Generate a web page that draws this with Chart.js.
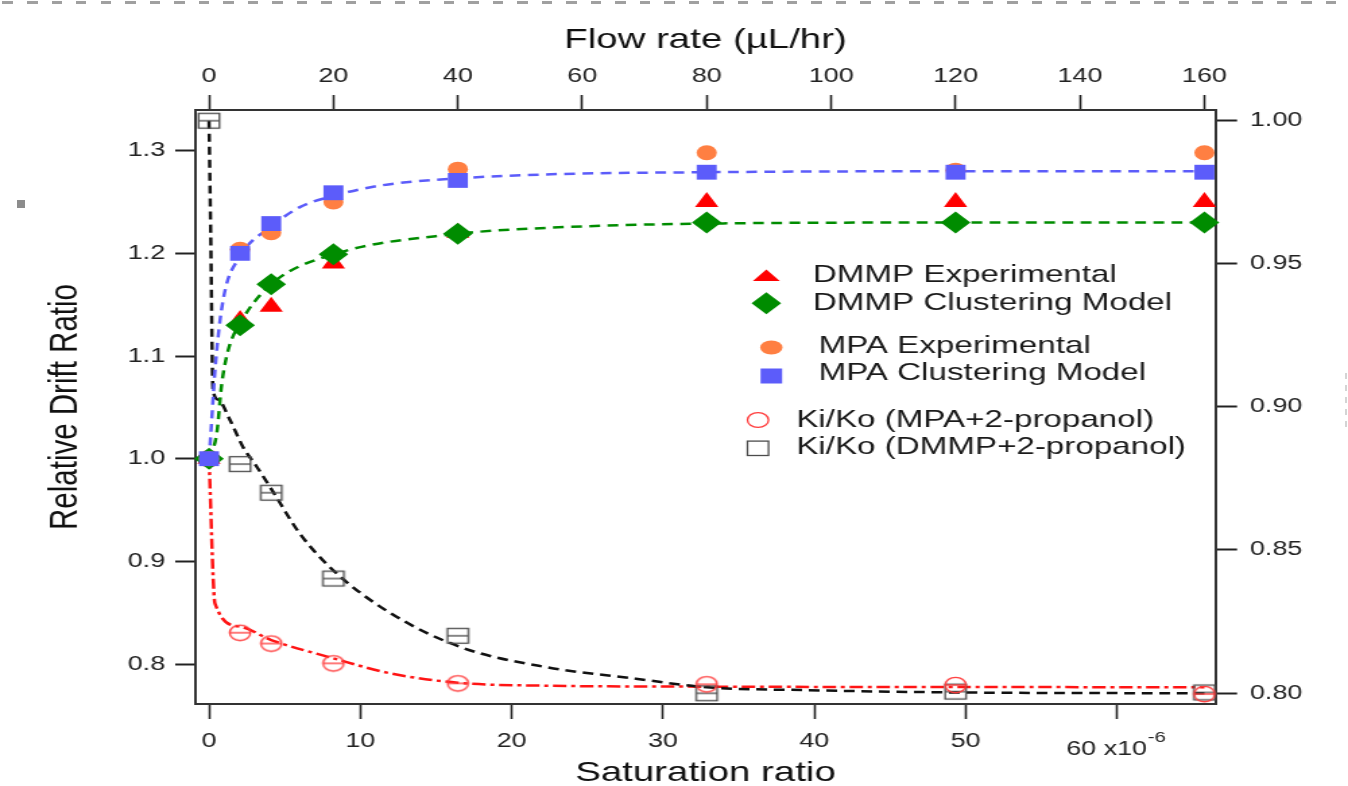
<!DOCTYPE html>
<html>
<head>
<meta charset="utf-8">
<script src="https://cdn.jsdelivr.net/npm/chart.js@4.4.1/dist/chart.umd.min.js"></script>
<style>
html,body{margin:0;padding:0;background:#fff;width:1348px;height:786px;overflow:hidden;}
#wrap{position:absolute;left:0;top:0;width:1000px;height:786px;transform:scaleX(1.348);transform-origin:0 0;}
#c{display:block;width:1000px;height:786px;}
#topdash{position:absolute;left:0;top:1px;width:1348px;height:3px;background:repeating-linear-gradient(90deg,#a0a0a0 0 10px,transparent 10px 24.5px);background-position:3px 0;}
#dot{position:absolute;left:17px;top:200px;width:8px;height:8px;background:#8c8c8c;}
#rdash{position:absolute;left:1345px;top:373px;width:2px;height:60px;background:repeating-linear-gradient(180deg,#d4d4d4 0 6px,transparent 6px 12px);}
</style>
</head>
<body>
<div id="topdash"></div><div id="dot"></div><div id="rdash"></div>
<div id="wrap"><canvas id="c" width="1000" height="786"></canvas></div>
<script>
// ---------------- DATA ----------------
const flowRates = [0, 5, 10, 20, 40, 80, 120, 160];               // µL/hr
const dmmpExperimental = [1.0, 1.135, 1.148, 1.190, 1.220, 1.250, 1.250, 1.250];
const dmmpModel        = [1.0, 1.130, 1.170, 1.199, 1.219, 1.230, 1.230, 1.230];
const mpaExperimental  = [1.0, 1.204, 1.220, 1.250, 1.282, 1.298, 1.281, 1.298];
const mpaModel         = [1.0, 1.200, 1.229, 1.259, 1.271, 1.279, 1.279, 1.279];
const kiKoMpa          = [1.0, 0.8305, 0.820, 0.8007, 0.7812, 0.7803, 0.7796, 0.7708]; // left axis
const kiKoDmmp         = [1.000, 0.880, 0.870, 0.840, 0.820, 0.7999, 0.8005, 0.8002];  // right axis

// fitted curves
const mpaFitFlow  = [0, 0.3, 1, 2.25, 5, 10, 14.6, 20, 27.5, 40, 55, 80, 120, 160];
const mpaFitVal   = [1.0, 1.025, 1.089, 1.154, 1.197, 1.226, 1.245, 1.256, 1.266, 1.273, 1.277, 1.279, 1.280, 1.280];
const dmmpFitFlow = [0, 1.25, 2.05, 3.1, 5, 10, 20, 40, 55, 80, 120, 160];
const dmmpFitVal  = [1.0, 1.025, 1.073, 1.106, 1.132, 1.170, 1.199, 1.219, 1.225, 1.229, 1.230, 1.230];
const kiDmmpFitFlow = [0, 0.27, 0.64, 1.5, 3.37, 5.46, 7.7, 10.1, 14.5, 19.9, 29.1, 40.5, 54.3, 68.6, 80, 96.2, 120, 160];
const kiDmmpFitVal  = [1.0, 0.961, 0.906, 0.9025, 0.8954, 0.886, 0.879, 0.871, 0.856, 0.843, 0.828, 0.816, 0.809, 0.805, 0.802, 0.801, 0.8002, 0.7999];
const kiMpaFitFlow  = [0, 0.96, 5, 10, 20, 29.1, 40, 54.3, 80, 120, 160];
const kiMpaFitVal   = [1.0, 0.859, 0.8364, 0.8234, 0.8056, 0.791, 0.7818, 0.7789, 0.778, 0.7776, 0.7775];

// ticks
const flowTicks = [0, 20, 40, 60, 80, 100, 120, 140, 160];
const saturationTicks = [0, 10, 20, 30, 40, 50, 60];
const driftTicks = [0.8, 0.9, 1.0, 1.1, 1.2, 1.3];
const kiKoTicks = [0.80, 0.85, 0.90, 0.95, 1.00];

const legendLabels = ['DMMP Experimental', 'DMMP Clustering Model', 'MPA Experimental',
  'MPA Clustering Model', 'Ki/Ko (MPA+2-propanol)', 'Ki/Ko (DMMP+2-propanol)'];
const titleTop = 'Flow rate (\u00B5L/hr)';
const titleBottom = 'Saturation ratio';
const titleLeft = 'Relative Drift Ratio';

// ---------------- STYLE ----------------
const FONT = "'Liberation Sans', Arial, Helvetica, sans-serif";
Chart.defaults.font.family = FONT;
Chart.defaults.color = '#222';
const C = {
  orange: '#ff7f42', blue: '#5c5cfa', red: '#ff0000', green: '#008c00',
  openRed: '#ff3a3a', openGray: '#4c4c4c', black: '#111111', redLine: '#ff1414'
};

function mkImg(kind) {
  const c = document.createElement('canvas');
  c.width = 20; c.height = 20;
  const g = c.getContext('2d');
  g.lineWidth = 1.35;
  if (kind === 'circle') {
    g.strokeStyle = C.openRed;
    g.beginPath(); g.arc(10, 10, 7.7, 0, Math.PI * 2); g.stroke();
    g.beginPath(); g.moveTo(2.3, 10); g.lineTo(17.7, 10); g.stroke();
  } else {
    g.strokeStyle = C.openGray;
    g.strokeRect(2.25, 2.6, 15.5, 14.8);
    g.beginPath(); g.moveTo(2.2, 10); g.lineTo(17.8, 10); g.stroke();
  }
  return c;
}
const imgCircle = mkImg('circle');
const imgSquare = mkImg('square');

const pts = (xs, ys) => xs.map((x, i) => ({ x: x, y: ys[i] }));

function markerSet(label, ys, axis, style, radius, color, order, img) {
  return {
    label, data: pts(flowRates, ys), xAxisID: 'xTop', yAxisID: axis,
    showLine: false, pointStyle: img || style, pointRadius: radius,
    backgroundColor: color, borderColor: color, pointBorderWidth: 0,
    order, clip: false
  };
}
function curveSet(label, xs, ys, axis, color, dash, order) {
  return {
    label, data: pts(xs, ys), xAxisID: 'xTop', yAxisID: axis,
    showLine: true, pointRadius: 0, borderColor: color, borderWidth: 2.5,
    borderDash: dash, cubicInterpolationMode: 'monotone', fill: false, order
  };
}

const datasets = [
  markerSet(legendLabels[3], mpaModel, 'y', 'rect', 10.5, C.blue, 1),
  markerSet(legendLabels[2], mpaExperimental, 'y', 'circle', 7.5, C.orange, 2),
  markerSet(legendLabels[1], dmmpModel, 'y', 'rectRot', 11, C.green, 3),
  markerSet(legendLabels[0], dmmpExperimental, 'y', 'triangle', 10, C.red, 4),
  markerSet(legendLabels[4], kiKoMpa, 'y', 'circle', 8, C.openRed, 5, imgCircle),
  markerSet(legendLabels[5], kiKoDmmp, 'y2', 'rect', 8, C.openGray, 6, imgSquare),
  curveSet('MPA fit', mpaFitFlow, mpaFitVal, 'y', C.blue, [8, 5.5], 10),
  curveSet('DMMP fit', dmmpFitFlow, dmmpFitVal, 'y', C.green, [8, 5.5], 11),
  curveSet('Ki/Ko DMMP fit', kiDmmpFitFlow, kiDmmpFitVal, 'y2', C.black, [8, 5], 12),
  curveSet('Ki/Ko MPA fit', kiMpaFitFlow, kiMpaFitVal, 'y', C.redLine, [10, 3.5, 3, 3.5], 13)
];

// ---------------- SCALES ----------------
const tickFont = { size: 20 };
function gridOpts(len, w) {
  return { display: true, drawOnChartArea: false, drawTicks: true, tickLength: len,
           tickColor: '#222', tickWidth: w };
}
const borderOpts = { display: true, color: '#333', width: 2 };

const scales = {
  xTop: {
    type: 'linear', position: 'top', min: -2.175, max: 161.78,
    grid: gridOpts(15, 1.6), border: borderOpts,
    afterBuildTicks: s => { s.ticks = flowTicks.map(v => ({ value: v })); },
    afterFit: s => { s.height = 110; },
    ticks: { font: tickFont, padding: 7, maxRotation: 0, minRotation: 0, autoSkip: false,
             color: '#222', callback: v => String(v) },
    title: { display: true, text: titleTop, color: '#111', font: { size: 28.5 },
             padding: { top: 23, bottom: 0 } }
  },
  xBottom: {
    type: 'linear', position: 'bottom', min: -0.894, max: 66.51,
    grid: gridOpts(15, 1.6), border: borderOpts,
    afterBuildTicks: s => { s.ticks = saturationTicks.map(v => ({ value: v })); },
    afterFit: s => { s.height = 82; },
    ticks: { font: tickFont, padding: 10, maxRotation: 0, minRotation: 0, autoSkip: false,
             color: '#222', callback: v => (v === 60 ? '' : String(v)) },
    title: { display: true, text: titleBottom, color: '#111', font: { size: 28.5, lineHeight: 0.9 },
             padding: { top: 0, bottom: 0.2 } }
  },
  y: {
    type: 'linear', position: 'left', min: 0.7611, max: 1.3396,
    grid: gridOpts(15, 2), border: borderOpts,
    afterBuildTicks: s => { s.ticks = driftTicks.map(v => ({ value: v })); },
    afterFit: s => { s.width = 145; },
    ticks: { font: tickFont, padding: 7.5, color: '#222', callback: v => v.toFixed(1) },
    title: { display: true, text: titleLeft, color: '#111', font: { size: 29.5 },
             padding: { top: 31, bottom: 0 } }
  },
  y2: {
    type: 'linear', position: 'right', min: 0.79616, max: 1.00374,
    grid: gridOpts(16, 2), border: borderOpts,
    afterBuildTicks: s => { s.ticks = kiKoTicks.map(v => ({ value: v })); },
    afterFit: s => { s.width = 98.3; },
    ticks: { font: tickFont, padding: 9.5, color: '#222', callback: v => v.toFixed(2) }
  }
};

// ---------------- OVERLAY (legend + exponent label) ----------------
const overlay = {
  id: 'overlay',
  afterDraw(chart) {
    const ctx = chart.ctx;
    const xb = chart.scales.xBottom;
    const last = saturationTicks[saturationTicks.length - 1];
    const px = xb.getPixelForValue(last);
    ctx.save();
    ctx.fillStyle = '#222';
    ctx.textBaseline = 'middle';
    ctx.textAlign = 'left';
    ctx.font = '20px ' + FONT;
    const main = last + ' x10';
    const w1 = ctx.measureText(main).width;
    ctx.font = '15px ' + FONT;
    const sup = '-6';
    const w2 = ctx.measureText(sup).width;
    const x0 = px - (w1 + w2) / 2 - 1;
    ctx.font = '20px ' + FONT;
    ctx.fillText(main, x0, 749);
    ctx.font = '15px ' + FONT;
    ctx.fillText(sup, x0 + w1 + 0.5, 738);

    // legend (layout positions of the in-plot key)
    const L = [
      { mx: 568.5, my: 275.5, tx: 603, ty: 275.5 },
      { mx: 568.5, my: 303.3, tx: 603, ty: 303 },
      { mx: 572.2, my: 347.5, tx: 607.3, ty: 346.7 },
      { mx: 572.2, my: 376, tx: 607.3, ty: 373.5 },
      { mx: 562.3, my: 420, tx: 590.7, ty: 420 },
      { mx: 562.3, my: 448.3, tx: 590.7, ty: 447 }
    ];
    ctx.fillStyle = C.red;
    ctx.beginPath();
    ctx.moveTo(L[0].mx - 10, L[0].my + 5.5); ctx.lineTo(L[0].mx + 10, L[0].my + 5.5);
    ctx.lineTo(L[0].mx, L[0].my - 6); ctx.closePath(); ctx.fill();
    ctx.fillStyle = C.green;
    ctx.beginPath();
    ctx.moveTo(L[1].mx - 11, L[1].my); ctx.lineTo(L[1].mx, L[1].my - 11);
    ctx.lineTo(L[1].mx + 11, L[1].my); ctx.lineTo(L[1].mx, L[1].my + 11);
    ctx.closePath(); ctx.fill();
    ctx.fillStyle = C.orange;
    ctx.beginPath(); ctx.ellipse(L[2].mx, L[2].my, 8.3, 7, 0, 0, Math.PI * 2); ctx.fill();
    ctx.fillStyle = C.blue;
    ctx.fillRect(L[3].mx - 8, L[3].my - 7.5, 16, 15);
    ctx.strokeStyle = C.openRed; ctx.lineWidth = 1.3;
    ctx.beginPath(); ctx.ellipse(L[4].mx, L[4].my, 7.8, 7.4, 0, 0, Math.PI * 2); ctx.stroke();
    ctx.strokeStyle = C.openGray;
    ctx.strokeRect(L[5].mx - 7.8, L[5].my - 7.2, 15.6, 14.4);

    ctx.fillStyle = '#1a1a1a';
    ctx.font = '24.6px ' + FONT;
    ctx.textAlign = 'left';
    ctx.textBaseline = 'middle';
    legendLabels.forEach((t, i) => ctx.fillText(t, L[i].tx, L[i].ty));
    ctx.restore();
  }
};

new Chart(document.getElementById('c'), {
  type: 'scatter',
  data: { datasets },
  options: {
    responsive: false,
    animation: false,
    events: [],
    devicePixelRatio: 1,
    layout: { padding: 0 },
    plugins: { legend: { display: false }, tooltip: { enabled: false }, title: { display: false } },
    scales
  },
  plugins: [overlay]
});
</script>
</body>
</html>
